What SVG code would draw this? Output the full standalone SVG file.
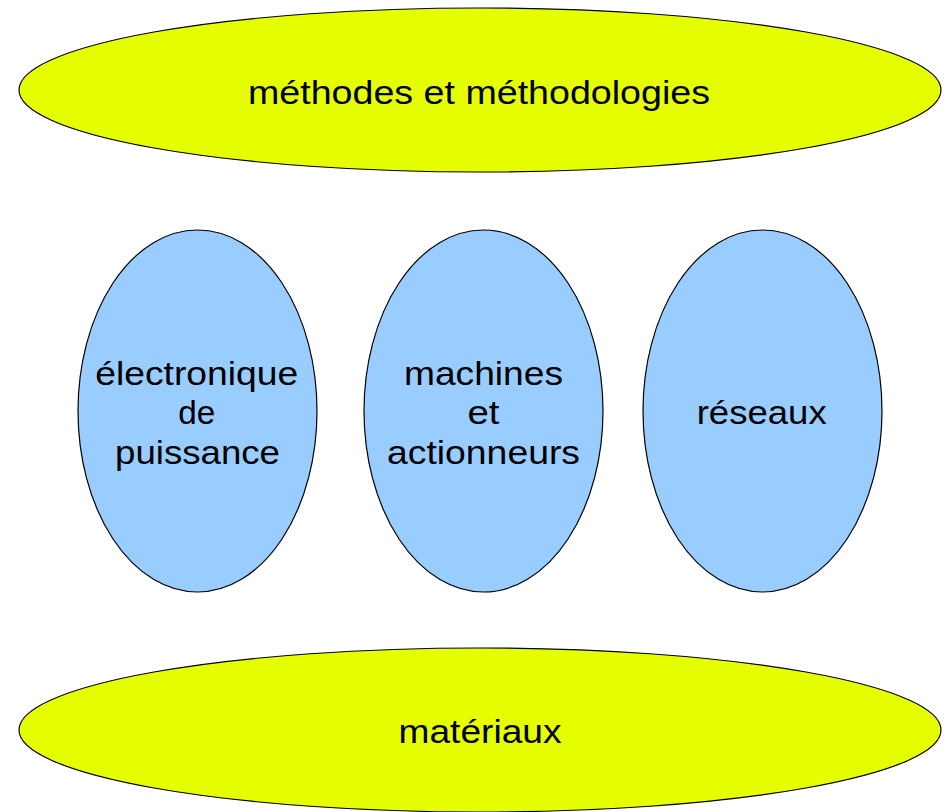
<svg xmlns="http://www.w3.org/2000/svg" width="950" height="812" viewBox="0 0 950 812">
<style>
.y{fill:#e6ff00;stroke:#000;stroke-width:1.2}
.b{fill:#99ccff;stroke:#000;stroke-width:1.2}
text{font-family:"Liberation Sans",Arial,sans-serif;font-size:34px;fill:#000;text-anchor:middle}
</style>
<rect width="950" height="812" fill="#fff"/>
<g id="methodes">
<ellipse class="y" cx="480" cy="90" rx="461" ry="82"/>
<text x="479" y="103.5" textLength="462" lengthAdjust="spacingAndGlyphs">méthodes et méthodologies</text>
</g>
<g id="electronique">
<ellipse class="b" cx="197.5" cy="411" rx="119.5" ry="181"/>
<text x="196.7" y="384.5" textLength="203" lengthAdjust="spacingAndGlyphs">électronique</text>
<text x="196.7" y="424" textLength="37" lengthAdjust="spacingAndGlyphs">de</text>
<text x="197.5" y="463.5" textLength="165" lengthAdjust="spacingAndGlyphs">puissance</text>
</g>
<g id="machines">
<ellipse class="b" cx="483.5" cy="411" rx="119.5" ry="181"/>
<text x="483.5" y="384.5" textLength="159" lengthAdjust="spacingAndGlyphs">machines</text>
<text x="483.5" y="424" textLength="32" lengthAdjust="spacingAndGlyphs">et</text>
<text x="483.5" y="463.5" textLength="193" lengthAdjust="spacingAndGlyphs">actionneurs</text>
</g>
<g id="reseaux">
<ellipse class="b" cx="762.5" cy="411" rx="119.5" ry="181"/>
<text x="761.7" y="424" textLength="130" lengthAdjust="spacingAndGlyphs">réseaux</text>
</g>
<g id="materiaux">
<ellipse class="y" cx="480" cy="730" rx="461" ry="82"/>
<text x="480" y="743" textLength="163" lengthAdjust="spacingAndGlyphs">matériaux</text>
</g>
<g id="connectors"/>
</svg>
